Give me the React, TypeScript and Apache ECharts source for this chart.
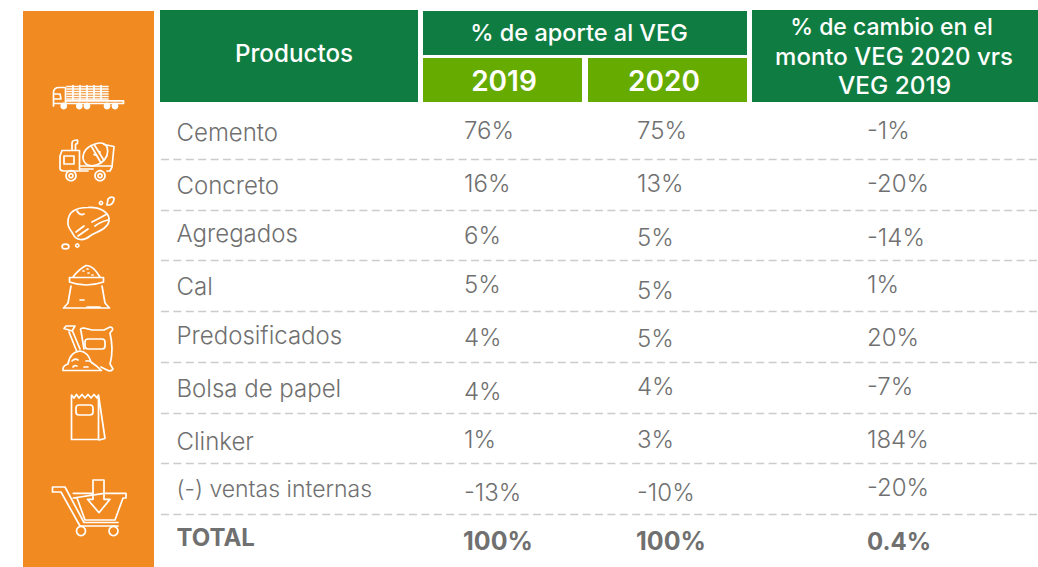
import React, { useEffect, useRef } from "react";
import * as echarts from "echarts";

// ---- Table content ----
const products = ["Cemento", "Concreto", "Agregados", "Cal", "Predosificados", "Bolsa de papel", "Clinker", "(-) ventas internas"];
const totalLabel = "TOTAL";
const share2019 = ["76%", "16%", "6%", "5%", "4%", "4%", "1%", "-13%"];
const share2020 = ["75%", "13%", "5%", "5%", "5%", "4%", "3%", "-10%"];
const change = ["-1%", "-20%", "-14%", "1%", "20%", "-7%", "184%", "-20%"];
const totals = ["100%", "100%", "0.4%"];
const headProducts = "Productos";
const headShare = "% de aporte al VEG";
const headYears = ["2019", "2020"];
const headChange = ["% de cambio en el", "monto VEG 2020 vrs", "VEG 2019"];

// ---- Layout (pixel placement of the table) ----
const ORANGE = "#F18A21";
const GREEN = "#0F7D42";
const LIME = "#66AB00";
const GREY = "#707070";
const FONT = "Inter";
const colX = [176.5, 464, 637, 867];
const productSize = [24, 24, 24, 24, 24, 24, 24, 23];
const productY = [132, 185, 233, 286, 335, 388, 441, 489];
const y2019 = [130, 183, 235, 284, 337, 391, 439, 492];
const y2020 = [130, 183, 237, 290, 338, 386, 439, 492];
const yChange = [130, 183, 237, 284, 337, 386, 439, 487];
const ruleY = [159.5, 210.5, 260.5, 311.5, 362.5, 413.5, 463.5, 514.5];
const totalY = [537, 541, 541, 541];

// ---- Icon outlines ----
const iconPaths = [
  // truck
  "M53.5 106 V92 Q54 87.5 59 87.5 H65.5 V104 M54 94 H60 L61 99 H54 M53.5 103.5 H123.5 V100.8 H66",
  "M67 86.5 H108 M67 89 H108 M67 91.5 H108 M67 94 H108 M67 96.5 H108 M67 99 H108 M73 85.5 V100 M80 85.5 V100 M87 85.5 V100 M94 85.5 V100 M101 85.5 V100",
  // mixer
  "M72 150 V143 Q72 140 77.5 140 V143.5 Q75.5 143.5 75.5 145 V150 M60 168 V156 L62 150.5 H79.5 V171 H88 M64 156 H74 V164 H64 Z M60 168 Q60 171 64 171 M78 171 H64 M80 166 H112 M80 169 H93 M107 171 H110 L112 167 L114 146.5 L104 144.5",
  "M83 158 Q83 148 95 144 Q104 141 107 147 Q110 156 101 163 Q92 168 86 164 Q83 161 83 158 Z M91 145.5 L101 163 M94.5 145 L104 160.5 M94 154.5 L95 155 M99 151.5 L100 152",
  // rock
  "M68 222 C68 212 76 207.5 88 207.5 C100 207 110 212 109 221 C108 229 96 232 90 236 C84 241 76 241 73 234 C71 230 67 227 68 222 Z",
  "M77 211 Q80 216 84 214 M92 222 Q100 218 107 214 M95 226 Q100 222 108 220 M76 232 L84 226 M78 236 L88 229",
  "M107 205 L108 199 Q111 196 114 198 Q114 203 110 205 Z",
  // sack
  "M73 277 Q78 270 86 265.5 Q93 265 100 277 M69.5 277.5 H103.5 V282 Q86 288 69.5 282 Z M71 286 L68 303 L63.5 308 H109.5 L105 303 L102 286 M87 307 L100 307 M80 300 H84",
  "M83 271 H84 M88 273 H89 M92 275 H93 M87 269 H88",
  // predosified bag and shovel
  "M64 328.5 L72 331 L75 326 L66 326 Z M69 332 L77 352 M72.5 331 L80 349 M63 370.5 Q62 366 68 364 Q70 352 80 351 Q88 352 91 362 Q97 366 101.5 370.5 Z M72 361 Q75 358 78 360 M86 361 Q90 360 92 363 M73 367 Q74 365 77 366 M84 367 H88",
  "M84 349 L81 331 Q79 328 84 328 L92 330 H104 L110 327 Q113 327 112.5 330 L110 333 Q114 350 110 364 L113 369 Q111 372 107 370 L101 367",
  "M88 339 H102 Q105 339 105 342 V346 Q105 349 102 349 H88 Q85 349 85 346 V342 Q85 339 88 339 Z",
  // paper bag
  "M71.5 439.5 V395 L74 398 L76.5 394.5 L79 398 L82 394.5 L85 398 L88 394.5 L91 398 L94 394.5 L97 398 L98.5 395 V439.5 Z M98.5 395 L105 438.5 L99 440",
  "M79 405 H90 Q93 405 93 408 V412 Q93 415 90 415 H79 Q76 415 76 412 V408 Q76 405 79 405 Z",
  // cart
  "M52.5 487 H65 L84 522.5 H118 M52.5 487 V492 H61 L80 526 H118 M73.3 493.3 H93 M104 493.3 H126 V498 H123 L115 520 H85 L77 498 H73.3 Z",
  "M93 480 H104 V499.3 H110 L99 512.7 L87.5 499.3 H93 Z",
];
const hollowCircles = [
  [71, 175.7, 5], [71, 175.7, 2], [100, 175.7, 5], [100, 175.7, 2],
  [101, 203, 1.6], [77.3, 245.5, 1.6],
  [81, 531, 4.5], [113.5, 531, 4.5],
];
const solidCircles = [
  [63.7, 106, 3.4], [79.3, 106, 3.4], [87, 106, 3.4], [107, 106, 3.4], [115, 106, 3.4],
];

iconPaths.forEach((d, i) => {
  echarts.graphic.registerShape("icon" + i, echarts.graphic.extendPath(d, {}));
});

function txt(text: string, x: number, y: number, fontSize: number, fontWeight: number | string, fill: string, textAlign = "left") {
  return {
    type: "text",
    style: { text, x, y, fontSize, fontWeight, fontFamily: FONT, fill, textAlign, textVerticalAlign: "middle" },
  };
}
function box(x: number, y: number, width: number, height: number, fill: string) {
  return { type: "rect", shape: { x, y, width, height }, style: { fill } };
}

export default function App() {
  const ref = useRef<HTMLDivElement>(null);
  useEffect(() => {
    document.body.style.margin = "0";
    const chart = echarts.init(ref.current!, undefined, { renderer: "svg" });
    const elements: any[] = [
      box(23, 11, 131, 556, ORANGE),
      box(160, 10, 258, 92, GREEN),
      box(423, 11, 324, 44, GREEN),
      box(423, 58, 159, 44, LIME),
      box(588, 58, 159, 44, LIME),
      box(752, 10, 286, 92, GREEN),
      txt(headProducts, 294, 53.5, 24.2, 500, "#fff", "center"),
      txt(headShare, 579, 32.5, 23.5, 500, "#fff", "center"),
      txt(headYears[0], 504, 80.5, 28, 600, "#fff", "center"),
      txt(headYears[1], 664, 80.5, 28, 600, "#fff", "center"),
      txt(headChange[0], 891.5, 27, 23, 500, "#fff", "center"),
      txt(headChange[1], 894, 56, 24, 500, "#fff", "center"),
      txt(headChange[2], 894.5, 84.5, 24.4, 500, "#fff", "center"),
    ];
    ruleY.forEach((y) => {
      elements.push({
        type: "line",
        shape: { x1: 161, y1: y, x2: 1038, y2: y },
        style: { stroke: "#CCCCCC", lineWidth: 1.4, lineDash: [8, 4.4] },
      });
    });
    products.forEach((p, i) => {
      elements.push(txt(p, colX[0], productY[i], productSize[i], 300, GREY));
      elements.push(txt(share2019[i], colX[1], y2019[i], 24, 300, GREY));
      elements.push(txt(share2020[i], colX[2], y2020[i], 24, 300, GREY));
      elements.push(txt(change[i], colX[3], yChange[i], 24, 300, GREY));
    });
    elements.push(txt(totalLabel, colX[0], totalY[0], 24, 700, GREY));
    totals.forEach((t, i) => elements.push(txt(t, colX[i + 1] - (i < 2 ? 1 : 0), totalY[i + 1], i < 2 ? 25 : 24, 700, GREY)));
    iconPaths.forEach((_, i) => {
      elements.push({
        type: "icon" + i,
        style: { fill: "none", stroke: "#fff", lineWidth: 1.7, lineJoin: "round", lineCap: "round" },
      });
    });
    hollowCircles.forEach(([cx, cy, r]) => {
      elements.push({ type: "circle", shape: { cx, cy, r }, style: { fill: "none", stroke: "#fff", lineWidth: 1.7 } });
    });
    solidCircles.forEach(([cx, cy, r]) => {
      elements.push({ type: "circle", shape: { cx, cy, r }, style: { fill: "#fff" } });
    });
    elements.push({ type: "ellipse", shape: { cx: 65.5, cy: 246.5, rx: 3.4, ry: 2.4 }, style: { fill: "none", stroke: "#fff", lineWidth: 1.7 } });
    chart.setOption({
      animation: false,
      backgroundColor: "#fff",
      graphic: { elements },
    });
    return () => chart.dispose();
  }, []);
  return <div ref={ref} style={{ width: 1038, height: 567 }} />;
}
